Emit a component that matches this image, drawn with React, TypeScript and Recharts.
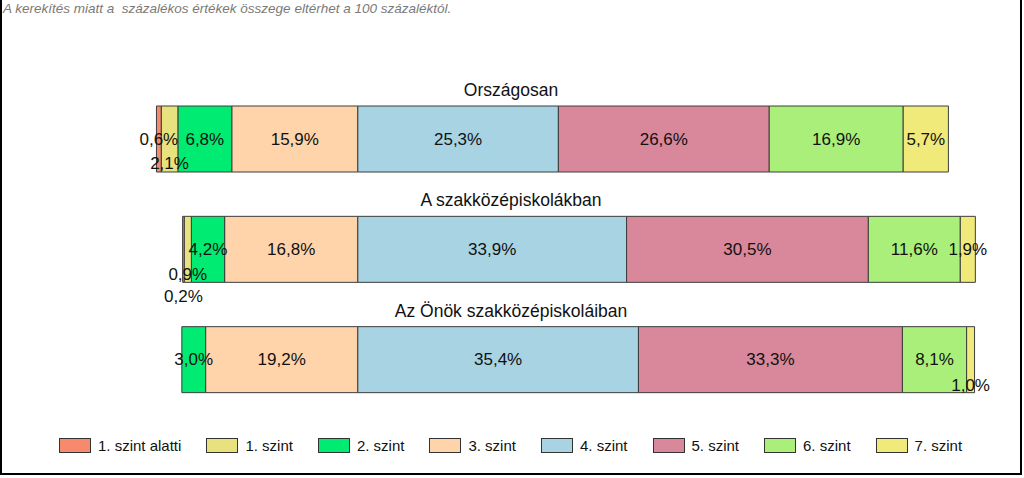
import React from "react";
import { BarChart, Bar, XAxis, YAxis } from "recharts";

const categories = ["Országosan", "A szakközépiskolákban", "Az Önök szakközépiskoláiban"];
const levelNames = ["1. szint alatti", "1. szint", "2. szint", "3. szint", "4. szint", "5. szint", "6. szint", "7. szint"];
const levelColors = ["#F78A6C", "#E8E27E", "#00EB72", "#FFD4AB", "#A7D3E3", "#D9879A", "#A9EF79", "#F0EA7A"];

const below1 = [0.6, 0.2, 0];
const level1 = [2.1, 0.9, 0];
const level2 = [6.8, 4.2, 3.0];
const level3 = [15.9, 16.8, 19.2];
const level4 = [25.3, 33.9, 35.4];
const level5 = [26.6, 30.5, 33.3];
const level6 = [16.9, 11.6, 8.1];
const level7 = [5.7, 1.9, 1.0];

const seriesValues = [below1, level1, level2, level3, level4, level5, level6, level7];

// levels below 4 go to the left of zero, the one nearest to zero is stacked first
const drawOrder = [3, 2, 1, 0, 4, 5, 6, 7];

const data = categories.map((name, i) => {
  const row: Record<string, string | number> = { name };
  seriesValues.forEach((vals, s) => {
    row["s" + s] = s < 4 ? -vals[i] : vals[i];
  });
  return row;
});

// small neighbouring labels are pushed down so they don't sit on each other
const labelDy: Record<string, number> = { "0-1": 24, "1-1": 25, "1-0": 47, "2-7": 26 };

const FONT = "Arial, 'Liberation Sans', sans-serif";

const makeLabel = (s: number) => (props: any) => {
  const { x, y, width, height, index } = props;
  const v = seriesValues[s][index];
  const dy = labelDy[index + "-" + s] ?? 0;
  return (
    <g>
      {s === 3 && (
        <text x={511} y={Number(y) - 16} textAnchor="middle" dominantBaseline="central" fontSize={17.5} fontFamily={FONT} fill="#111">
          {categories[index]}
        </text>
      )}
      {v ? (
        <text
          x={Number(x) + Number(width) / 2}
          y={Number(y) + Number(height) / 2 + dy}
          textAnchor="middle"
          dominantBaseline="central"
          fontSize={17}
          fontFamily={FONT}
          fill="#111"
        >
          {v.toFixed(1).replace(".", ",")}%
        </text>
      ) : null}
    </g>
  );
};

export default function App() {
  return (
    <div style={{ position: "absolute", left: 0, top: 0, width: 1024, height: 478, background: "#fff", fontFamily: FONT }}>
      <div
        style={{
          position: "absolute",
          left: 0,
          top: -2,
          width: 1022,
          height: 477,
          boxSizing: "border-box",
          border: "2px solid #000",
        }}
      />
      <div style={{ position: "absolute", left: 3, top: 1, fontSize: 13.5, fontStyle: "italic", color: "#7a7a7a", whiteSpace: "nowrap" }}>
        A kerekítés miatt a&nbsp; százalékos értékek összege eltérhet a 100 százaléktól.
      </div>
      <div style={{ position: "absolute", left: 0, top: 0 }}>
        <BarChart
          width={1024}
          height={478}
          data={data}
          layout="vertical"
          stackOffset="sign"
          barSize={66}
          margin={{ top: 84, right: 32, bottom: 63, left: 120 }}
        >
          <XAxis type="number" domain={[-30, 80]} allowDataOverflow hide />
          <YAxis type="category" dataKey="name" hide />
          {drawOrder.map((s) => (
            <Bar
              key={s}
              dataKey={"s" + s}
              stackId="a"
              fill={levelColors[s]}
              stroke="#3c3c3c"
              strokeWidth={1}
              isAnimationActive={false}
              label={makeLabel(s)}
            />
          ))}
        </BarChart>
      </div>
      <div style={{ position: "absolute", left: 59, top: 437, display: "flex", alignItems: "center", fontSize: 15, color: "#111" }}>
        {levelNames.map((n, i) => (
          <div key={n} style={{ display: "flex", alignItems: "center", marginRight: 25 }}>
            <span
              style={{
                display: "inline-block",
                width: 32,
                height: 15,
                boxSizing: "border-box",
                border: "1px solid #333",
                background: levelColors[i],
                marginRight: 7,
              }}
            />
            <span>{n}</span>
          </div>
        ))}
      </div>
    </div>
  );
}
